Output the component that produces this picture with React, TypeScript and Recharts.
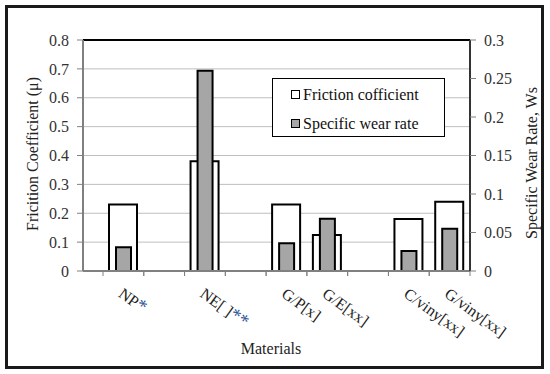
import { BarChart, Bar, XAxis, YAxis, CartesianGrid, Legend, ReferenceLine } from 'recharts';

const materials = ['NP*', '', 'NE[ ]**', '', 'G/P[x]', 'G/E[xx]', '', 'C/viny[xx]', 'G/viny[xx]'];
const frictionCoefficient = [0.23, null, 0.38, null, 0.23, 0.125, null, 0.18, 0.24];
const specificWearRate = [0.031, null, 0.26, null, 0.036, 0.068, null, 0.026, 0.055];
const frictionTicks = [0, 0.1, 0.2, 0.3, 0.4, 0.5, 0.6, 0.7, 0.8];
const wearTicks = [0, 0.05, 0.1, 0.15, 0.2, 0.25, 0.3];

const data = materials.map((name, i) => ({
    name,
    friction: frictionCoefficient[i],
    wear: specificWearRate[i],
}));

const FONT = 'Liberation Serif';
const CHART_H = 374;
const X_AXIS_H = 103;
const AXIS_Y = CHART_H - X_AXIS_H;
const BAND = 367 / materials.length;

const MaterialTick = (props: any) => {
    const { x, payload } = props;
    const label: string = payload.value || '';
    const base = label.replace(/\*+$/, '');
    const stars = label.slice(base.length);
    return (
        <g>
            <line x1={x - BAND / 2} x2={x - BAND / 2} y1={AXIS_Y} y2={AXIS_Y + 5} stroke="#808080" />
            <line x1={x + BAND / 2} x2={x + BAND / 2} y1={AXIS_Y} y2={AXIS_Y + 5} stroke="#808080" />
            {label && (
                <text transform={`translate(${x - 6},${AXIS_Y + 25}) rotate(36)`} fontSize={16} fill="#222" fontFamily={FONT}>
                    {base}
                    <tspan fill="#2f5597" fontSize={19}>{stars}</tspan>
                </text>
            )}
        </g>
    );
};

const LegendBox = () => (
    <div style={{
        width: 173, height: 59, boxSizing: 'border-box', border: '1.5px solid #000', background: '#fff',
        fontFamily: FONT, fontSize: 16, color: '#111', paddingLeft: 18, paddingTop: 3,
    }}>
        {[{ label: 'Friction cofficient', fill: '#fff' }, { label: 'Specific wear rate', fill: '#a6a6a6' }].map((item) => (
            <div key={item.label} style={{ display: 'flex', alignItems: 'center', height: 25, marginBottom: 4 }}>
                <span style={{ width: 9, height: 9, boxSizing: 'border-box', border: '1.5px solid #000', background: item.fill, marginRight: 3 }} />
                <span>{item.label}</span>
            </div>
        ))}
    </div>
);

export default function App() {
    return (
        <div style={{ position: 'absolute', left: 0, top: 0, width: 550, height: 374, background: '#fff', fontFamily: FONT }}>
            <BarChart
                width={550}
                height={CHART_H}
                data={data}
                margin={{ top: 40, right: 0, left: 0, bottom: 0 }}
                style={{ fontFamily: FONT }}
            >
                <CartesianGrid yAxisId="left" xAxisId="main" vertical={false} stroke="#bfbfbf" />
                <XAxis
                    xAxisId="main"
                    dataKey="name"
                    height={X_AXIS_H}
                    padding={{ left: 20, right: 0 }}
                    interval={0}
                    tickSize={0}
                    tickMargin={0}
                    tickLine={false}
                    axisLine={{ stroke: '#808080', strokeWidth: 2 }}
                    tick={<MaterialTick />}
                    label={() => (
                        <text x={271} y={354} textAnchor="middle" fontSize={16} fill="#222" fontFamily={FONT}>Materials</text>
                    )}
                />
                <XAxis xAxisId="aux" dataKey="name" hide height={0} padding={{ left: 20, right: 0 }} />
                <YAxis
                    yAxisId="left"
                    width={83}
                    domain={[0, 0.8]}
                    ticks={frictionTicks}
                    interval={0}
                    tickSize={6}
                    tickMargin={8}
                    tick={{ fill: '#333', fontSize: 16, fontFamily: FONT }}
                    tickLine={{ stroke: '#808080' }}
                    axisLine={{ stroke: '#808080', strokeWidth: 2 }}
                    label={() => (
                        <text x={38} y={154} transform="rotate(-90 38 154)" textAnchor="middle" fontSize={16} fill="#222" fontFamily={FONT}>Fricition Coefficient (μ)</text>
                    )}
                />
                <YAxis
                    yAxisId="right"
                    orientation="right"
                    width={80}
                    domain={[0, 0.3]}
                    ticks={wearTicks}
                    interval={0}
                    tickSize={6}
                    tickMargin={8}
                    tick={{ fill: '#333', fontSize: 16, fontFamily: FONT }}
                    tickLine={{ stroke: '#808080' }}
                    axisLine={{ stroke: '#333', strokeWidth: 2 }}
                    label={() => (
                        <text x={537} y={163} transform="rotate(-90 537 163)" textAnchor="middle" fontSize={16} fill="#222" fontFamily={FONT}>Specific Wear Rate, Ws</text>
                    )}
                />
                <ReferenceLine yAxisId="left" xAxisId="main" y={0.8} stroke="#000" strokeWidth={2} />
                <Legend
                    layout="vertical"
                    align="center"
                    verticalAlign="middle"
                    wrapperStyle={{ position: 'absolute', left: 272, top: 78, width: 173, height: 59 }}
                    content={<LegendBox />}
                />
                <Bar xAxisId="main" yAxisId="left" dataKey="friction" name="Friction cofficient" barSize={28} fill="#fff" stroke="#000" strokeWidth={2} isAnimationActive={false} />
                <Bar xAxisId="aux" yAxisId="right" dataKey="wear" name="Specific wear rate" barSize={15} fill="#a6a6a6" stroke="#000" strokeWidth={2} isAnimationActive={false} />
            </BarChart>
            <div style={{
                position: 'absolute', left: 5, top: 5, width: 539, height: 364, boxSizing: 'border-box',
                border: '3px solid #1a1a1a', pointerEvents: 'none',
            }} />
        </div>
    );
}
